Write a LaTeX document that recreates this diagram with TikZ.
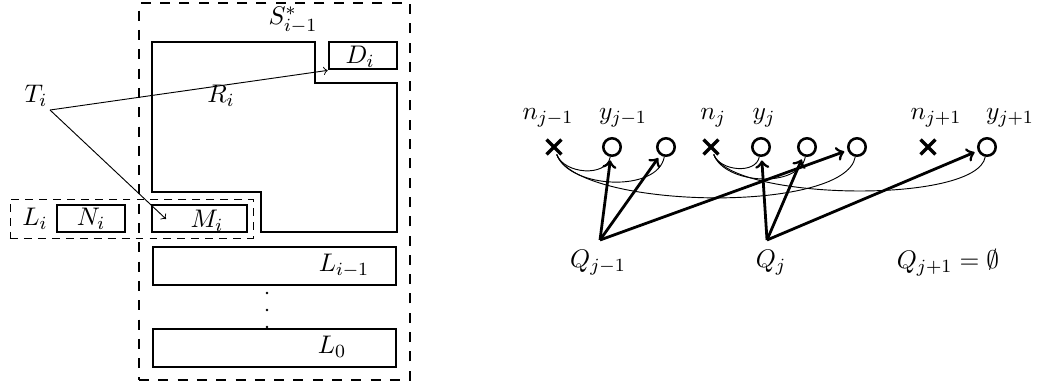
\documentclass[tikz,border=0pt]{standalone}
\usepackage{amsmath, amssymb}
\usetikzlibrary{shapes.misc}
\tikzstyle{box}=[draw, line width=1.2pt, inner sep=0]
\tikzstyle{dbox}=[draw, dash pattern=on 3.4pt off 2.6pt, thin, inner sep=0]
\tikzstyle{nx}=[cross out, draw, line width=1.4pt, minimum size=5pt, inner sep=0]
\tikzstyle{yo}=[circle, draw, line width=1.1pt, minimum size=7.5pt, inner sep=0]
\tikzstyle{qarr}=[->, line width=1.2pt, shorten >=1.5pt]
\tikzstyle{link}=[thin, out=-70, in=-100]

\begin{document}
\begin{tikzpicture}[x=0.43pt, y=0.43pt, font=\fontsize{11.2}{13}\selectfont]
\useasboundingbox (0,0) rectangle (1039,387);
\draw (274.5,195.5) node[box, dash pattern=on 4.3pt off 4pt, minimum width=116.5pt, minimum height=162.1pt](S) {};
\draw (293,367) node(Slab) {$S^*_{i-1}$};
\draw[line width=1.2pt] (152,345) -- (315,345) -- (315,304) -- (397,304) -- (397,155)
  -- (261,155) -- (261,195) -- (152,195) -- cycle;
\draw (221,291) node(Rlab) {$R_i$};
\draw (363,331.5) node[box, minimum width=29.2pt, minimum height=11.6pt](Di) {};
\draw (360,330) node(Dlab) {$D_i$};
\draw (131.5,168.5) node[dbox, minimum width=104.5pt, minimum height=16.8pt](Li) {};
\draw (35,168) node(Lilab) {$L_i$};
\draw (91,168.5) node[box, minimum width=29.2pt, minimum height=11.6pt](Ni) {};
\draw (91,168) node(Nlab) {$N_i$};
\draw (199.5,168.5) node[box, minimum width=40.9pt, minimum height=11.6pt](Mi) {};
\draw (207,166) node(Mlab) {$M_i$};
\draw (274.5,121) node[box, minimum width=104.5pt, minimum height=16.3pt](L1) {};
\draw (344,121) node(L1lab) {$L_{i-1}$};
\draw (274.5,39) node[box, minimum width=104.5pt, minimum height=16.3pt](L0) {};
\draw (332,40) node(L0lab) {$L_0$};
\foreach \y in {94,77,60}
	\fill (267,\y) circle (0.6pt);
\draw (36,291) node(Ti) {$T_i$};
\draw (50,277) coordinate(t0);
\draw (166,168) coordinate(m0);
\draw[->] (t0) -- (Di.south west);
\draw[->] (t0) -- (m0);
% right part
\draw (554,240) node[nx](n1) {};
\draw (711,240) node[nx](n2) {};
\draw (928,240) node[nx](n3) {};
\draw (612,240) node[yo](y1) {};
\draw (666,240) node[yo](y1b) {};
\draw (761,240) node[yo](y2) {};
\draw (807,240) node[yo](y2b) {};
\draw (857,240) node[yo](y2c) {};
\draw (987,240) node[yo](y3) {};
\draw (548,269) node(n1lab) {$n_{j-1}$};
\draw (623,269) node(y1lab) {$y_{j-1}$};
\draw (713,269) node(n2lab) {$n_j$};
\draw (764,269) node(y2lab) {$y_j$};
\draw (936,269) node(n3lab) {$n_{j+1}$};
\draw (1010,269) node(y3lab) {$y_{j+1}$};
\draw (n1) to[link] (y1);
\draw (n1) to[link, looseness=0.87] (y1b);
\draw (n1) to[link, looseness=0.5] (y2c);
\draw (n2) to[link] (y2);
\draw (n2) to[link, looseness=0.9] (y2b);
\draw (n2) to[link, looseness=0.46] (y3);
\draw (600,147) coordinate(qa);
\draw (767,147) coordinate(qb);
\draw (598,124) node(qalab) {$Q_{j-1}$};
\draw (771,124) node(qblab) {$Q_j$};
\draw (948,124) node(qclab) {$Q_{j+1}=\emptyset$};
\draw[qarr] (qa) -- (y1);
\draw[qarr] (qa) -- (y1b);
\draw[qarr] (qa) -- (y2c);
\draw[qarr] (qb) -- (y2);
\draw[qarr] (qb) -- (y2b);
\draw[qarr] (qb) -- (y3);
\end{tikzpicture}
\end{document}
